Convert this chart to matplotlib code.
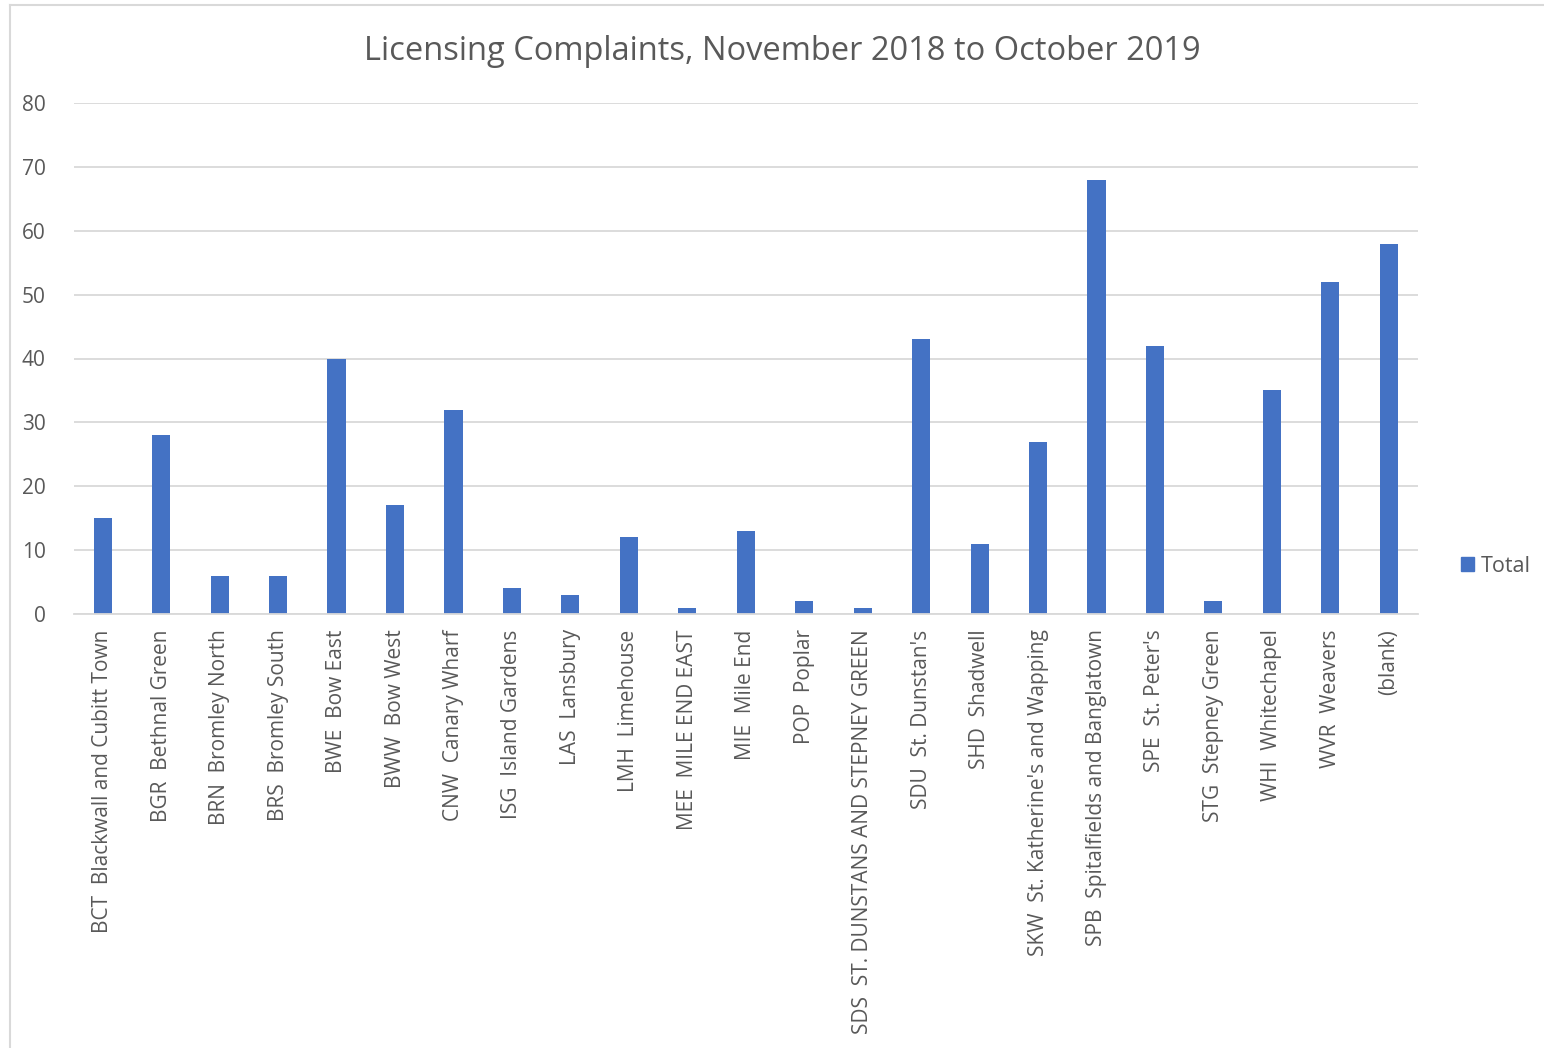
import matplotlib
matplotlib.use("Agg")
import matplotlib.pyplot as plt
from matplotlib.lines import Line2D

categories = [
    "BCT  Blackwall and Cubitt Town", "BGR  Bethnal Green", "BRN  Bromley North",
    "BRS  Bromley South", "BWE  Bow East", "BWW  Bow West", "CNW  Canary Wharf",
    "ISG  Island Gardens", "LAS  Lansbury", "LMH  Limehouse", "MEE  MILE END EAST",
    "MIE  Mile End", "POP  Poplar", "SDS  ST. DUNSTANS AND STEPNEY GREEN",
    "SDU  St. Dunstan's", "SHD  Shadwell", "SKW  St. Katherine's and Wapping",
    "SPB  Spitalfields and Banglatown", "SPE  St. Peter's", "STG  Stepney Green",
    "WHI  Whitechapel", "WVR  Weavers", "(blank)",
]
totals = [15, 28, 6, 6, 40, 17, 32, 4, 3, 12, 1, 13, 2, 1, 43, 11, 27, 68, 42, 2, 35, 52, 58]
yticks = [0, 10, 20, 30, 40, 50, 60, 70, 80]
title = "Licensing Complaints, November 2018 to October 2019"
series_name = "Total"

FONT = ["Open Sans", "DejaVu Sans"]
GRAY = "#595959"
BAR = "#4472C4"
GRID = "#D9D9D9"

W, H = 1544, 1048
fig = plt.figure(figsize=(W / 100, H / 100), dpi=100)
fig.patch.set_facecolor("white")

# outer chart border
fig.add_artist(Line2D([10 / W, 10 / W], [0, 1 - 5 / H], color=GRID, lw=1.5, transform=fig.transFigure))
fig.add_artist(Line2D([10 / W, 1], [1 - 5 / H, 1 - 5 / H], color=GRID, lw=1.5, transform=fig.transFigure))

left, right = 73.5 / W, 1418 / W
bottom, top = 1 - 614 / H, 1 - 103 / H
ax = fig.add_axes([left, bottom, right - left, top - bottom])

x = list(range(len(categories)))
ax.bar(x, totals, width=0.31, color=BAR, zorder=3, label=series_name)
ax.set_xlim(-0.5, len(categories) - 0.5)
ax.set_ylim(0, 80)
ax.set_yticks(yticks)
ax.set_yticklabels([str(v) for v in yticks], fontfamily=FONT, fontsize=15, color=GRAY)
ax.set_xticks(x)
ax.set_xticklabels(categories, rotation=90, fontfamily=FONT, fontsize=15, color=GRAY)
ax.tick_params(axis="both", length=0)
ax.tick_params(axis="x", pad=11)
ax.tick_params(axis="y", pad=20)
ax.grid(axis="y", color=GRID, lw=1.3, zorder=0)
for s in ["top", "right", "left"]:
    ax.spines[s].set_visible(False)
ax.spines["bottom"].set_color(GRID)
ax.spines["bottom"].set_linewidth(1.3)
ax.spines["bottom"].set_zorder(4)

fig.text(782 / W, 1 - 52 / H, title, ha="center", va="center", fontfamily=FONT,
         fontsize=23.5, color=GRAY)

leg = fig.legend(handles=[plt.Rectangle((0, 0), 1, 1, color=BAR)], labels=[series_name],
                 loc="center left", bbox_to_anchor=(1461 / W, 1 - 566 / H), frameon=False,
                 prop={"family": FONT, "size": 15.5}, handlelength=0.6, handleheight=0.6,
                 handletextpad=0.3, borderpad=0, borderaxespad=0)
for t in leg.get_texts():
    t.set_color(GRAY)

fig.savefig("out.png", dpi=100, facecolor="white")
